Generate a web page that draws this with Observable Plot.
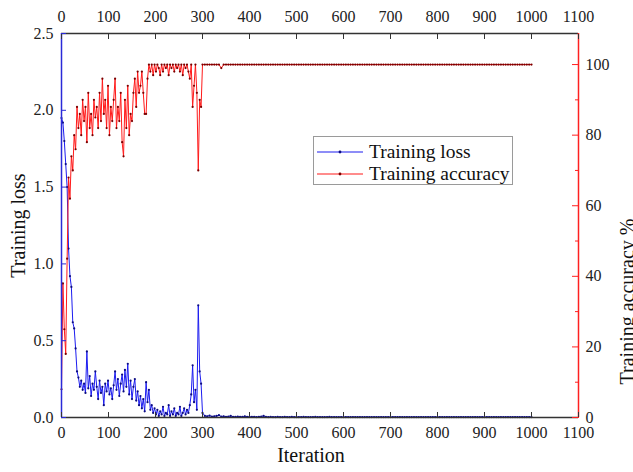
<!DOCTYPE html>
<html>
<head>
<meta charset="utf-8">
<script src="https://cdn.jsdelivr.net/npm/d3@7"></script>
<script src="https://cdn.jsdelivr.net/npm/@observablehq/plot@0.6"></script>
<style>
  body { margin: 0; background: #fff; }
  #wrap { position: relative; width: 633px; height: 472px; font-family: "Liberation Serif", serif; }
  #legend { position: absolute; left: 313px; top: 136px; width: 198px; height: 47px; border: 1px solid #9a9a9a; background: #fff; }
  #legend .row { position: absolute; left: 3px; height: 22px; display: flex; align-items: center; font-size: 19.5px; color: #111; }
  #legend svg { margin-right: 6px; }
</style>
</head>
<body>
<div id="wrap">
  <div id="legend"></div>
</div>
<script>
// ---- data ----
const earlyStep = 3;   // iterations 0..300
const lateStart = 305, lateStep = 5; // iterations 305..1000

const lossEarly = [1.95,1.92,1.80,1.65,1.50,1.10,0.92,0.85,0.62,0.58,
  0.45,0.30,0.26,0.20,0.24,0.18,0.22,0.16,0.43,0.19,
  0.27,0.14,0.22,0.18,0.30,0.20,0.12,0.24,0.16,0.20,
  0.08,0.22,0.17,0.24,0.15,0.19,0.12,0.21,0.30,0.18,
  0.25,0.14,0.22,0.28,0.17,0.31,0.20,0.35,0.15,0.24,
  0.12,0.20,0.25,0.11,0.17,0.08,0.14,0.06,0.12,0.04,
  0.23,0.10,0.18,0.05,0.08,0.03,0.06,0.02,0.05,0.01,
  0.04,0.02,0.07,0.01,0.03,0.02,0.08,0.01,0.04,0.02,
  0.06,0.01,0.03,0.02,0.07,0.01,0.03,0.06,0.02,0.05,
  0.03,0.08,0.15,0.34,0.10,0.18,0.05,0.73,0.30,0.22,
  0.03];

const accEarly = [8,38,25,18,45,68,62,74,70,80,
  76,88,82,86,80,90,84,88,78,92,
  82,86,80,90,85,88,82,92,84,96,
  86,90,82,94,80,88,84,90,96,82,
  88,84,92,78,74,90,82,94,80,86,
  84,92,96,88,98,92,94,98,92,86,
  86,96,100,98,100,97,100,98,100,99,
  97,100,98,100,99,100,97,100,99,100,
  98,100,99,100,98,100,97,100,99,100,
  98,96,100,88,94,100,92,70,90,88,
  100];

const lossLate = [0.010,0.008,0.012,0.006,0.008,0.010,0.015,0.006,0.008,0.005,
  0.006,0.010,0.005,0.004,0.006,0.005,0.004,0.008,0.005,0.004,
  0.004,0.005,0.003,0.004,0.006,0.010,0.004,0.003,0.004,0.003,
  0.003,0.004,0.003,0.003,0.004,0.003,0.003,0.004,0.003,0.003,
  0.003,0.003,0.004,0.003,0.003,0.003,0.003,0.004,0.003,0.003,
  0.003,0.003,0.003,0.004,0.003,0.003,0.003,0.003,0.003,0.003,
  0.003,0.003,0.003,0.003,0.003,0.003,0.003,0.003,0.003,0.003,
  0.003,0.003,0.003,0.003,0.003,0.003,0.003,0.003,0.003,0.003,
  0.003,0.003,0.003,0.003,0.003,0.003,0.003,0.003,0.003,0.003,
  0.003,0.003,0.003,0.003,0.003,0.003,0.003,0.003,0.003,0.003,
  0.003,0.003,0.003,0.003,0.003,0.003,0.003,0.003,0.003,0.003,
  0.003,0.003,0.003,0.003,0.003,0.003,0.003,0.003,0.003,0.003,
  0.003,0.003,0.003,0.003,0.003,0.003,0.003,0.003,0.003,0.003,
  0.003,0.003,0.003,0.003,0.003,0.003,0.003,0.003,0.003,0.003];

const accLate = [100,100,100,100,100,100,100,99,100,100,
  100,100,100,100,100,100,100,100,100,100,
  100,100,100,100,100,100,100,100,100,100,
  100,100,100,100,100,100,100,100,100,100,
  100,100,100,100,100,100,100,100,100,100,
  100,100,100,100,100,100,100,100,100,100,
  100,100,100,100,100,100,100,100,100,100,
  100,100,100,100,100,100,100,100,100,100,
  100,100,100,100,100,100,100,100,100,100,
  100,100,100,100,100,100,100,100,100,100,
  100,100,100,100,100,100,100,100,100,100,
  100,100,100,100,100,100,100,100,100,100,
  100,100,100,100,100,100,100,100,100,100,
  100,100,100,100,100,100,100,100,100,100];

const xTicks = [0,100,200,300,400,500,600,700,800,900,1000,1100];
const lossTicks = [0,0.5,1.0,1.5,2.0,2.5];
const accTicks = [0,20,40,60,80,100];
const accMinorTicks = [10,30,50,70,90];

const lossMax = 2.5;
const accMax = 108.8;           // right axis top
const k = lossMax / accMax;     // accuracy -> loss-scale factor

const seriesNames = ["Training loss", "Training accuracy"];
const lineColors = ["#1c1cf0", "#ff1a1a"];
const dotColors = ["#0c0c80", "#7a0000"];

// ---- table ----
const rows = [
  ...lossEarly.map((l, i) => ({it: i * earlyStep, loss: l, acc: accEarly[i]})),
  ...lossLate.map((l, i) => ({it: lateStart + i * lateStep, loss: l, acc: accLate[i]}))
];

const font = "Liberation Serif";

const chart = Plot.plot({
  width: 633,
  height: 472,
  marginLeft: 61,
  marginRight: 55,
  marginTop: 33,
  marginBottom: 55,
  style: {fontFamily: font, fontSize: "16px", color: "#222", background: "#fff", overflow: "visible"},
  x: {domain: [0, 1100]},
  y: {domain: [0, lossMax]},
  marks: [
    Plot.line(rows, {x: "it", y: "loss", stroke: lineColors[0], strokeWidth: 1}),
    Plot.dot(rows, {x: "it", y: "loss", r: 1.1, fill: dotColors[0], stroke: "none"}),
    Plot.line(rows, {x: "it", y: d => d.acc * k, stroke: lineColors[1], strokeWidth: 1}),
    Plot.dot(rows, {x: "it", y: d => d.acc * k, r: 1.1, fill: dotColors[1], stroke: "none"}),
    // frame
    Plot.ruleY([0], {stroke: "#333", strokeWidth: 1.3}),
    Plot.ruleY([lossMax], {stroke: "#333", strokeWidth: 1.3}),
    Plot.ruleX([0], {stroke: "#2a2ad8", strokeWidth: 1.5}),
    Plot.ruleX([1100], {stroke: "#ff2020", strokeWidth: 1.5}),
    // axes
    Plot.axisX(xTicks, {anchor: "bottom", tickSize: -5, tickPadding: 14, tickFormat: d => String(d), label: null, stroke: "#333", fill: "#222"}),
    Plot.axisX(xTicks, {anchor: "top", tickSize: -5, tickPadding: 17, tickFormat: d => String(d), label: null, stroke: "#333", fill: "#222"}),
    Plot.axisY(lossTicks, {anchor: "left", tickSize: -5, tickPadding: 13, tickFormat: d3.format(".1f"), label: null, stroke: "#2a2ad8", fill: "#222"}),
    Plot.axisY(accTicks.map(a => a * k), {anchor: "right", tickSize: -7, tickPadding: 14, tickFormat: d => String(Math.round(d / k)), label: null, stroke: "#ff2020", fill: "#222"}),
    Plot.axisY(accMinorTicks.map(a => a * k), {anchor: "right", tickSize: -4, tickPadding: 14, tickFormat: () => "", label: null, stroke: "#ff2020"}),
    // axis titles
    Plot.text(["Training loss"], {frameAnchor: "left", textAnchor: "middle", dx: -43, rotate: -90, fontSize: 20, fill: "#111"}),
    Plot.text(["Training accuracy %"], {frameAnchor: "right", textAnchor: "middle", dx: 49, dy: 76, rotate: -90, fontSize: 20, fill: "#111"}),
    Plot.text(["Iteration"], {frameAnchor: "bottom", textAnchor: "middle", dy: 44, dx: -9, fontSize: 20, fill: "#111"})
  ]
});

const wrap = document.getElementById("wrap");
wrap.insertBefore(chart, wrap.firstChild);

// legend
const legend = document.getElementById("legend");
seriesNames.forEach((name, i) => {
  const row = document.createElement("div");
  row.className = "row";
  row.style.top = (4 + i * 22) + "px";
  row.innerHTML = `<svg width="46" height="10"><line x1="0" y1="5" x2="46" y2="5" stroke="${lineColors[i]}" stroke-width="1.2"/><circle cx="23" cy="5" r="1.4" fill="${dotColors[i]}"/></svg><span>${name}</span>`;
  legend.appendChild(row);
});
</script>
</body>
</html>
